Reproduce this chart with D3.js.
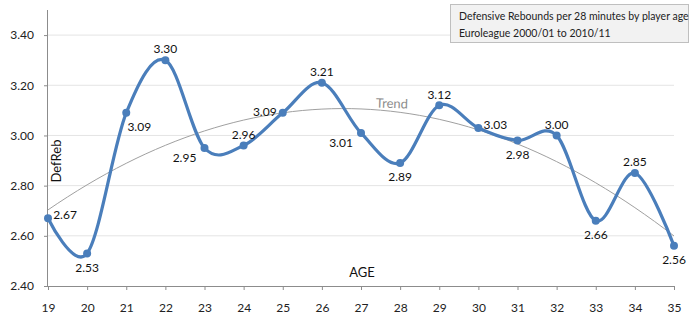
<!DOCTYPE html>
<html><head><meta charset="utf-8">
<script src="https://cdn.jsdelivr.net/npm/d3@7"></script>
<style>
body{margin:0;background:#fff;}
svg{display:block;font-family:Lato,"Open Sans",sans-serif;}
</style></head>
<body><svg id="c" width="694" height="329"></svg>
<script>
const ages = [19,20,21,22,23,24,25,26,27,28,29,30,31,32,33,34,35];
const defReb = [2.67,2.53,3.09,3.30,2.95,2.96,3.09,3.21,3.01,2.89,3.12,3.03,2.98,3.00,2.66,2.85,2.56];
const labelPos = ["r","b","br","t","bl","t","tl","t","bl","b","t","r","b","t","b","t","b"];
const yTicks = [2.40,2.60,2.80,3.00,3.20,3.40];
const titleLines = ["Defensive Rebounds per 28 minutes by player age","Euroleague 2000/01 to 2010/11"];

const svg = d3.select("#c");
const x = d3.scaleLinear().domain([19,35]).range([48,674]);
const y = d3.scaleLinear().domain([2.4,3.5]).range([286,10]);

// gridlines
svg.append("g").selectAll("line").data(yTicks.slice(1)).join("line")
  .attr("x1",48).attr("x2",674).attr("y1",d=>y(d)).attr("y2",d=>y(d))
  .attr("stroke","#e4e4e4").attr("stroke-width",1);

// axes
const ya = svg.append("g").attr("transform","translate(48,0)")
  .call(d3.axisLeft(y).tickValues(yTicks).tickFormat(d3.format(".2f")).tickSize(4).tickPadding(10));
ya.select(".domain").attr("d","M-0.5,10V286.5").attr("stroke","#8c8c8c");
ya.selectAll(".tick line").attr("stroke","#8c8c8c");
ya.selectAll("text").attr("font-size",12).attr("fill","#222").attr("font-family","Lato,sans-serif");

const xa = svg.append("g").attr("transform","translate(0,286)")
  .call(d3.axisBottom(x).tickValues(ages).tickFormat(d3.format("d")).tickSize(4).tickPadding(13));
xa.select(".domain").attr("d","M48,0.5H674").attr("stroke","#8c8c8c");
xa.selectAll(".tick line").attr("stroke","#8c8c8c");
xa.selectAll("text").attr("font-size",12).attr("fill","#222").attr("font-family","Lato,sans-serif");

// trend (quadratic least squares)
function polyfit2(xs, ys){
  let S=[0,0,0,0,0], T=[0,0,0];
  xs.forEach((xv,i)=>{const u=xv;for(let k=0;k<5;k++)S[k]+=Math.pow(u,k);for(let k=0;k<3;k++)T[k]+=ys[i]*Math.pow(u,k);});
  const A=[[S[0],S[1],S[2],T[0]],[S[1],S[2],S[3],T[1]],[S[2],S[3],S[4],T[2]]];
  for(let i=0;i<3;i++){for(let j=i+1;j<3;j++){const f=A[j][i]/A[i][i];for(let k=i;k<4;k++)A[j][k]-=f*A[i][k];}}
  const c=[0,0,0];
  for(let i=2;i>=0;i--){let s=A[i][3];for(let k=i+1;k<3;k++)s-=A[i][k]*c[k];c[i]=s/A[i][i];}
  return c;
}
const u = ages.map(a=>a-27);
const c = polyfit2(u, defReb);
const trendPts = d3.range(19,35.01,0.25).map(a=>[a, c[0]+c[1]*(a-27)+c[2]*(a-27)*(a-27)]);
svg.append("path").datum(trendPts)
  .attr("d", d3.line().x(d=>x(d[0])).y(d=>y(d[1])))
  .attr("fill","none").attr("stroke","#a0a0a0").attr("stroke-width",1);
svg.append("text").attr("x",392).attr("y",108).attr("text-anchor","middle")
  .attr("font-size",13).attr("fill","#8c8c8c").attr("transform","rotate(2,392,104)").text("Trend");

// main line
const pts = ages.map((a,i)=>[a,defReb[i]]);
svg.append("path").datum(pts)
  .attr("d", d3.line().x(d=>x(d[0])).y(d=>y(d[1])).curve(d3.curveCardinal.tension(0)))
  .attr("fill","none").attr("stroke","#4a7ebb").attr("stroke-width",3.2).attr("stroke-linejoin","round");
svg.append("g").selectAll("circle").data(pts).join("circle")
  .attr("cx",d=>x(d[0])).attr("cy",d=>y(d[1])).attr("r",4).attr("fill","#4a7ebb");

// data labels
const off = {r:[17,-3],b:[0,14],br:[13,14],t:[0,-11],bl:[-20,10],tl:[-18,-1]};
svg.append("g").selectAll("text").data(pts).join("text")
  .attr("x",(d,i)=>x(d[0])+off[labelPos[i]][0])
  .attr("y",(d,i)=>y(d[1])+off[labelPos[i]][1])
  .attr("dy","0.35em").attr("text-anchor","middle")
  .attr("font-size",12).attr("fill","#111").text(d=>d[1].toFixed(2));

// axis titles
svg.append("text").attr("x",362).attr("y",277).attr("text-anchor","middle")
  .attr("font-size",13).attr("fill","#111").text("AGE");
svg.append("text").attr("transform","translate(61,161) rotate(-90)").attr("text-anchor","middle")
  .attr("font-size",13).attr("fill","#111").text("DefReb");

// legend/title box
svg.append("rect").attr("x",450.5).attr("y",4.5).attr("width",238).attr("height",38)
  .attr("fill","#f2f2f2").attr("stroke","#bfbfbf");
svg.append("g").selectAll("text").data(titleLines).join("text")
  .attr("x",459).attr("y",(d,i)=>16+i*17).attr("dy","0.35em")
  .attr("font-size",10.5).attr("fill","#222").text(d=>d);
</script></body></html>
